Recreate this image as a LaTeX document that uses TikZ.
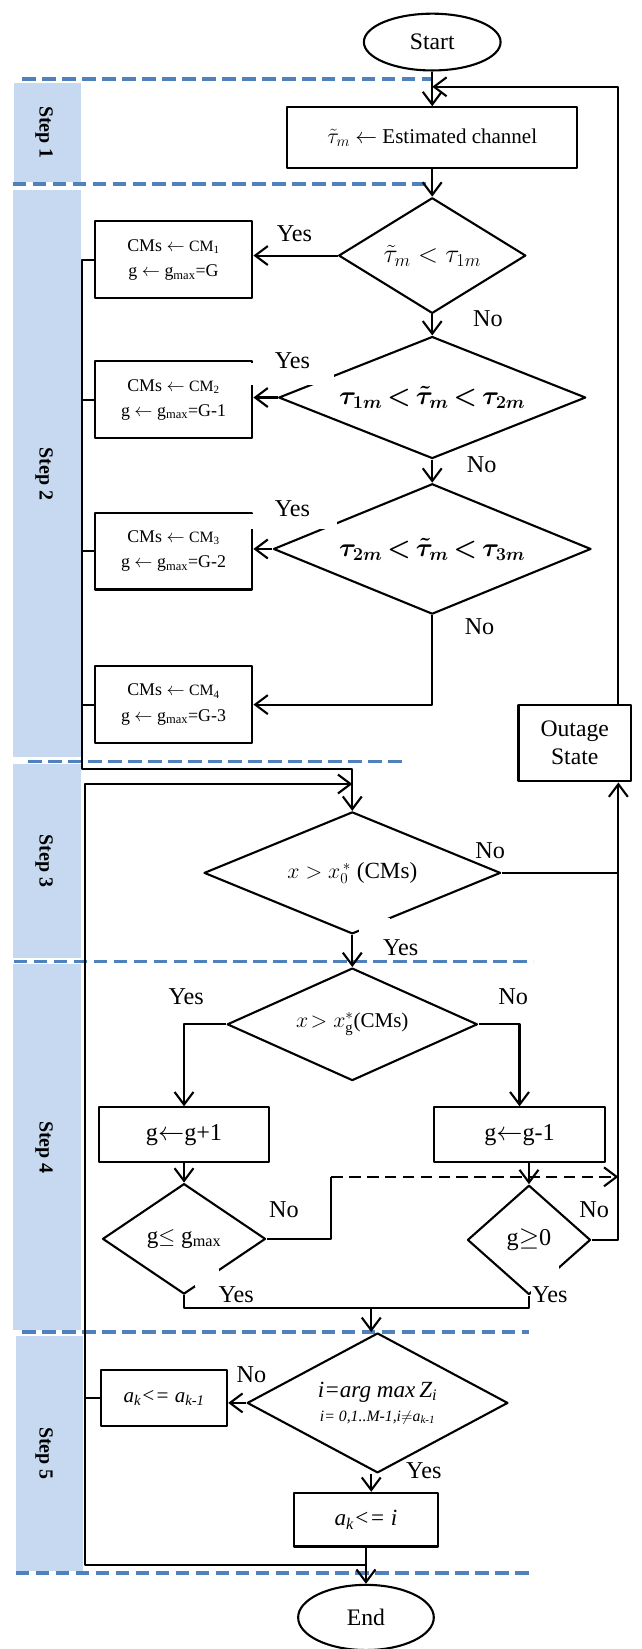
\documentclass[tikz,border=0pt]{standalone}
\usepackage{fontspec}
\setmainfont{Liberation Serif}
\usetikzlibrary{shapes.geometric,arrows.meta}
\definecolor{sepblue}{HTML}{4F81BD}
\definecolor{stepfill}{HTML}{C6D9F1}
\newcommand\setfs[2]{\fontsize{#1}{#2}\selectfont}

\begin{document}
\begin{tikzpicture}[x=1pt,y=-1pt,line join=round,line width=2pt,
		>={Straight Barb[length=12pt,width=18pt]},
		proc/.style={draw,rectangle,inner sep=0pt,align=center},
		cmbox/.style={proc,minimum width=150pt,minimum height=73pt,font=\setfs{17}{24}},
		cond/.style={draw,diamond,inner sep=0pt,align=center},
		oval/.style={draw,ellipse,inner sep=0pt,font=\setfs{22.5}{27}},
		lbl/.style={inner sep=0pt,font=\setfs{23}{27}},
		sep/.style={sepblue,line width=3.2pt,dash pattern=on 13pt off 6pt},
		steplbl/.style={rotate=-90,inner sep=0pt,font=\bfseries\setfs{19}{22}},
		gap/.style={fill=white}]
	\useasboundingbox (0,0) rectangle (610,1568);
	% Thanh Step ben trai
	\foreach \a/\b/\c/\d/\n in {13/77/79/173/1,12/77/181/720/2,12/77/726/911/3,12/77/917/1265/4,15/79/1270/1494/5}{
		\fill[stepfill] (\a,\c) rectangle (\b,\d);
		\node[steplbl] (step\n) at (42,{(\c+\d)/2}) {Step \n};
	}
	\foreach \y/\a/\b in {75/21/412,175/12/410,724/27/385,914/13/507,1266.7/21/503,1495.7/15/507}
		\draw[sep] (\a,\y) -- (\b,\y);
	% Cac khoi
	\node[oval,minimum width=130pt,minimum height=54pt] (start) at (411,40) {Start};
	\node[proc,minimum width=276pt,minimum height=58pt,font=\setfs{20}{24}] (est) at (411,131) {$\tilde{\tau}_{m}$ $\leftarrow$ Estimated channel};
	\node[cond,minimum width=178pt,minimum height=110pt,aspect=1.6,font=\setfs{24}{28}] (dA) at (411,243) {$\tilde{\tau}_{m}<\tau_{1m}$};
	\node[cond,minimum width=292pt,minimum height=116pt,aspect=2.5,font=\setfs{23}{28}\boldmath] (dB) at (411,378) {$\tau_{1m}\,{<}\,\tilde{\tau}_{m}\,{<}\,\tau_{2m}$};
	\node[cond,minimum width=302pt,minimum height=124pt,aspect=2.4,font=\setfs{23}{28}\boldmath] (dC) at (411,522) {$\tau_{2m}\,{<}\,\tilde{\tau}_{m}\,{<}\,\tau_{3m}$};
	\foreach \n/\y/\g in {1/247/G,2/380/G-1,3/524/G-2,4/670/G-3}
		\node[cmbox] (cm\n) at (165,\y) {CMs $\leftarrow$ {\setfs{15}{24}CM\textsubscript{\n}}\\g $\leftarrow$ g\textsubscript{max}=\g};
	\node[proc,minimum width=107pt,minimum height=73pt,font=\setfs{22.5}{27}] (out) at (546.5,706.5) {Outage\\State};
	\node[cond,minimum width=282pt,minimum height=116pt,aspect=2.4,font=\setfs{22}{26}] (dD) at (335,830) {$x>x_0^{\,*}$ (CMs)};
	\node[cond,minimum width=238pt,minimum height=107pt,aspect=2.2,font=\setfs{20}{24}] (dE) at (335,974) {$x\!>x_{\mathrm{g}}^{*}$(CMs)};
	\node[proc,minimum width=162pt,minimum height=52pt,font=\setfs{23}{27}] (gp) at (175,1079) {g$\leftarrow$g+1};
	\node[proc,minimum width=163pt,minimum height=52pt,font=\setfs{23}{27}] (gm) at (494,1079) {g$\leftarrow$g-1};
	\node[cond,minimum width=155pt,minimum height=105pt,aspect=1.5,font=\setfs{22}{26}] (dF) at (175,1178) {g$\leq$ g\textsubscript{max}};
	\node[cond,minimum width=117pt,minimum height=104pt,aspect=1.1,font=\setfs{23}{27}] (dG) at (503,1179) {g$\geq$0};
	\node[cond,minimum width=248pt,minimum height=133pt,aspect=1.9,font=\setfs{22}{23}\itshape] (dH) at (359,1334) {i=arg max\,Z\textsubscript{i}\\{\setfs{15}{18}i= 0,1..M-1,i$\neq$a\textsubscript{k-1}}};
	\node[proc,minimum width=120pt,minimum height=53pt,font=\setfs{20}{24}\itshape] (akold) at (156,1329.5) {a\textsubscript{k}<= a\textsubscript{k-1}};
	\node[proc,minimum width=137pt,minimum height=51pt,font=\setfs{22}{26}\itshape] (ak) at (348,1445) {a\textsubscript{k}<= i};
	\node[oval,minimum width=129pt,minimum height=62pt] (end) at (348,1538) {End};
	% Cho bi che boi nhan Yes
	\fill[gap] (238.5,345.2) rectangle (317.5,366.4);
	\fill[gap] (238.5,488.8) rectangle (320.5,503);
	\fill[gap] (341,873) rectangle (371,889);
	\fill[gap] (185.5,1207) rectangle (208,1224);
	\fill[gap] (505,1204) rectangle (531.5,1231);
	% Cac duong noi
	\coordinate (fb) at (411,82.5);
	\coordinate (rt) at ([xshift=41.5pt]out.north);
	\coordinate (rb) at ([xshift=41.5pt]out.south);
	\coordinate (sp1) at (78,731);
	\coordinate (sp2) at (81,745.5);
	\coordinate (dj) at (315,1119);
	\coordinate (jb) at (353,1242.5);
	\coordinate (lp) at (348,1488);
	\draw[->] (start) -- (est);
	\draw[->] (rt) |- (fb);
	\draw[->] (est) -- (dA);
	\draw[->] (dA) -- (dB);
	\draw[->] (dB) -- (dC);
	\draw[->] (dA.west) -- (dA.west -| cm1.east);
	\draw[->] (dB.west) -- (dB.west -| cm2.east);
	\draw[->] (dC.west) -- (dC.west -| cm3.east);
	\draw[->] (dC.south) |- (cm4.east);
	\draw[->] (cm1.west) -| (sp1) -| (dD.north);
	\foreach \b in {cm2,cm3,cm4}
		\draw (\b.west) -- (\b.west -| sp1);
	\draw[->] (lp) -| (sp2) -- (sp2 -| dD.north);
	\draw (akold.west) -- (akold.west -| sp2);
	\draw (dD.east) -- (rb |- dD.east);
	\draw[->] (dD) -- (dE);
	\draw[->] (dE.west) -| (gp.north);
	\draw[->] (dE.east) -| (gm.north);
	\draw[->] (gp) -- (dF);
	\draw[->] (gm.south -| dG.north) -- (dG.north);
	\draw (dF.east) -| (dj);
	\draw[dashed,dash pattern=on 11pt off 6pt,->] (dj) -- (rb |- dj);
	\draw[->] (dG.east) -| (rb);
	\draw (dF.south) -- ++(0,12) -| (dG.south);
	\draw[->] (jb) -- (jb |- dH.north);
	\draw[->] (dH.west) -- (dH.west -| akold.east);
	\draw[->] (dH.south -| jb) -- (jb |- ak.north);
	\draw[->] (ak) -- (end);
	% Nhan Yes / No
	\foreach \nm/\x/\y/\t in {y1/280/222/Yes,n1/464/303/No,y2/278/343/Yes,n2/458/442/No,y3/278/484/Yes,n3/456/596/No,
		n4/466/809/No,y4/381/901/Yes,y5/177/948/Yes,n5/488/948/No,n6/270/1150/No,n7/565/1150/No,
		y6/224.5/1231/Yes,y7/523/1231/Yes,n8/239/1307/No,y8/403/1398/Yes}
		\node[lbl] (\nm) at (\x,\y) {\t};
\end{tikzpicture}
\end{document}
